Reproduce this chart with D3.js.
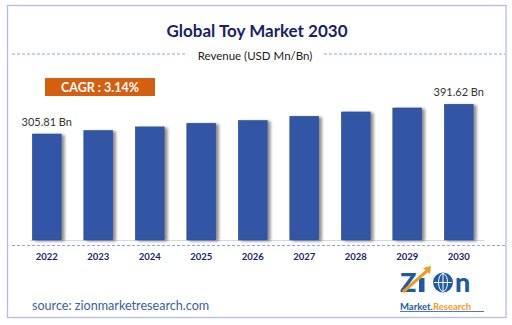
<!DOCTYPE html>
<html><head><meta charset="utf-8">
<script src="https://cdn.jsdelivr.net/npm/d3@7"></script>
<style>html,body{margin:0;padding:0;background:#fff;}svg{display:block;}</style>
</head><body>
<svg id="chart" width="512" height="325"></svg>
<script>
const years = ["2022","2023","2024","2025","2026","2027","2028","2029","2030"];
const revenue = [305.81, 315.8, 326.3, 336.9, 344.6, 357.0, 369.5, 381.0, 391.62];
const valueLabels = ["305.81 Bn","","","","","","","","391.62 Bn"];
const titleText = "Global Toy Market 2030";
const subtitleText = "Revenue (USD Mn/Bn)";
const cagrText = "CAGR : 3.14%";
const sourceText = "source: zionmarketresearch.com";

const svg = d3.select("#chart");
const font = "Lato, 'Open Sans', sans-serif";

const defs = svg.append("defs");
const f = defs.append("filter").attr("id","sh").attr("x","-20%").attr("y","-10%").attr("width","160%").attr("height","130%");
f.append("feGaussianBlur").attr("in","SourceAlpha").attr("stdDeviation",1.6);
f.append("feOffset").attr("dx",3).attr("dy",1).attr("result","ob");
f.append("feComponentTransfer").append("feFuncA").attr("type","linear").attr("slope",0.45);
const m = f.append("feMerge"); m.append("feMergeNode"); m.append("feMergeNode").attr("in","SourceGraphic");

// frame
svg.append("rect").attr("x",7.5).attr("y",5.5).attr("width",498.5).attr("height",312)
  .attr("fill","#fff").attr("stroke","#b4bce6").attr("stroke-width",1.3);

svg.append("text").attr("x",257).attr("y",37).attr("text-anchor","middle")
  .attr("font-family",font).attr("font-weight","bold").attr("font-size",17)
  .attr("fill","#1b1f6b").text(titleText);

// dashed header line
svg.append("line").attr("x1",12).attr("x2",186).attr("y1",54).attr("y2",54)
  .attr("stroke","#8ea6dc").attr("stroke-dasharray","3,2").attr("stroke-width",1);
svg.append("line").attr("x1",324).attr("x2",505).attr("y1",54).attr("y2",54)
  .attr("stroke","#8ea6dc").attr("stroke-dasharray","3,2").attr("stroke-width",1);
svg.append("text").attr("x",255).attr("y",60).attr("text-anchor","middle")
  .attr("font-family",font).attr("font-size",11.5).attr("fill","#222").text(subtitleText);

// CAGR box
svg.append("rect").attr("x",45).attr("y",78).attr("width",110).attr("height",18).attr("fill","#d4600f");
svg.append("text").attr("x",100).attr("y",91.5).attr("text-anchor","middle")
  .attr("font-family",font).attr("font-weight","bold").attr("font-size",12.5)
  .attr("fill","#fff").text(cagrText);

// scales
const x = d3.scaleBand().domain(years).range([21, 484.5]).paddingInner(0.44).paddingOuter(0.22);
const y = d3.scaleLinear().domain([0, 391.62]).range([240, 104.3]);

svg.append("line").attr("x1",30).attr("x2",484).attr("y1",240.5).attr("y2",240.5)
  .attr("stroke","#d9d9d9").attr("stroke-width",1);

svg.append("g").selectAll("rect").data(years).join("rect")
  .attr("x", d => x(d)).attr("width", x.bandwidth())
  .attr("y", (d,i) => y(revenue[i])).attr("height", (d,i) => y(0) - y(revenue[i]))
  .attr("fill","#3355a5").attr("stroke","#2a4a9a").attr("stroke-width",0.6)
  .attr("filter","url(#sh)");

svg.append("g").selectAll("text").data(years).join("text")
  .attr("x", d => x(d) + x.bandwidth()/2)
  .attr("y", (d,i) => y(revenue[i]) - 8)
  .attr("text-anchor","middle").attr("font-family",font).attr("font-size",11)
  .attr("fill","#333").text((d,i) => valueLabels[i]);

// dashed axis line
svg.append("line").attr("x1",12).attr("x2",505).attr("y1",245.5).attr("y2",245.5)
  .attr("stroke","#8ea6dc").attr("stroke-dasharray","3,2").attr("stroke-width",1);

const xAxis = svg.append("g").attr("transform","translate(0,245)")
  .call(d3.axisBottom(x).tickSize(0).tickPadding(8));
xAxis.select(".domain").remove();
xAxis.selectAll("text").attr("font-family",font).attr("font-weight","bold")
  .attr("font-size",9.5).attr("fill","#1b1f6b");

// source
svg.append("text").attr("x",32).attr("y",310).attr("font-family",font).attr("font-size",12.6)
  .attr("fill","#3d5f9c").text(sourceText);

// logo
const lg = svg.append("g");
const blue = "#1d5aa6", orange = "#f29a1f";
lg.append("text").attr("x",400).attr("y",292).attr("font-family","Lato, sans-serif")
  .attr("font-weight","900").attr("font-size",27).attr("fill",blue).text("Z");
lg.append("rect").attr("x",419).attr("y",278).attr("width",5.5).attr("height",14).attr("fill",blue);
lg.append("path").attr("d","M403 292 L428 270").attr("stroke",orange).attr("stroke-width",3);
lg.append("path").attr("d","M423 268 L431 266 L430 274 Z").attr("fill",orange);
lg.append("circle").attr("cx",443).attr("cy",282.5).attr("r",10).attr("fill",blue);
lg.append("ellipse").attr("cx",443).attr("cy",282.5).attr("rx",4.5).attr("ry",9).attr("fill","none").attr("stroke","#fff").attr("stroke-width",1);
lg.append("line").attr("x1",434).attr("x2",452).attr("y1",282.5).attr("y2",282.5).attr("stroke","#fff").attr("stroke-width",1);
lg.append("line").attr("x1",443).attr("x2",443).attr("y1",273.5).attr("y2",291.5).attr("stroke","#fff").attr("stroke-width",1);
lg.append("text").attr("x",455).attr("y",292).attr("font-family","Lato, sans-serif")
  .attr("font-weight","900").attr("font-size",27).attr("fill",blue).text("n");
const mr = lg.append("text").attr("x",400).attr("y",310).attr("font-family",font)
  .attr("font-weight","bold").attr("font-size",9.5);
mr.append("tspan").attr("fill",blue).text("Market.");
mr.append("tspan").attr("fill",orange).text("Research");
lg.append("line").attr("x1",400).attr("x2",484).attr("y1",311.5).attr("y2",311.5).attr("stroke",blue).attr("stroke-width",0.8);
</script>
</body></html>
